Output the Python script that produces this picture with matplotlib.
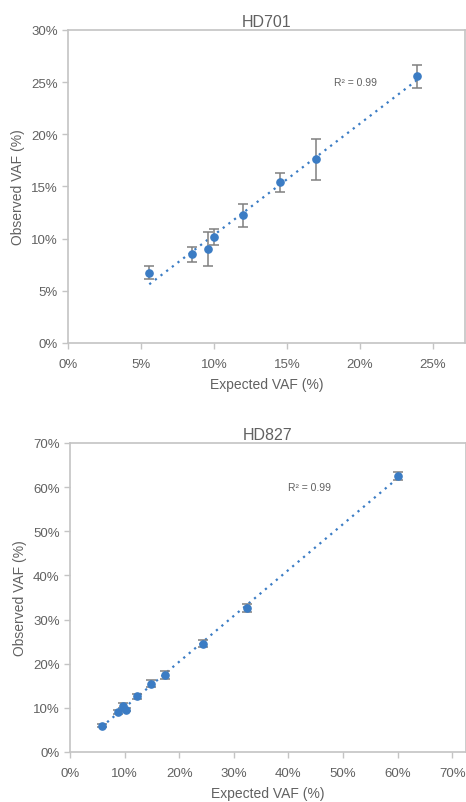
import numpy as np
import matplotlib
matplotlib.use("Agg")
import matplotlib.pyplot as plt
from matplotlib.ticker import FuncFormatter

plt.rcParams['font.family'] = ['Liberation Sans', 'DejaVu Sans']

# HD701 data (fractions)
hd701_expected = [0.0557, 0.085, 0.0956, 0.0997, 0.1197, 0.145, 0.170, 0.239]
hd701_observed = [0.0675, 0.0850, 0.0900, 0.1015, 0.1226, 0.1540, 0.1760, 0.2555]
hd701_error = [0.006, 0.007, 0.016, 0.008, 0.011, 0.009, 0.020, 0.011]
hd701_r2 = "R² = 0.99"

# HD827 data (fractions)
hd827_expected = [0.058, 0.0885, 0.0977, 0.102, 0.123, 0.148, 0.174, 0.244, 0.324, 0.601]
hd827_observed = [0.060, 0.090, 0.105, 0.096, 0.126, 0.155, 0.175, 0.245, 0.327, 0.626]
hd827_error = [0.004, 0.005, 0.005, 0.004, 0.005, 0.008, 0.009, 0.008, 0.009, 0.009]
hd827_r2 = "R² = 0.99"

top_yticks = [0, 0.05, 0.10, 0.15, 0.20, 0.25, 0.30]
top_xticks = [0, 0.05, 0.10, 0.15, 0.20, 0.25]
bot_yticks = [0, 0.1, 0.2, 0.3, 0.4, 0.5, 0.6, 0.7]
bot_xticks = [0, 0.1, 0.2, 0.3, 0.4, 0.5, 0.6, 0.7]

W, H = 466, 803
fig = plt.figure(figsize=(W / 100, H / 100), dpi=100)

TXT = '#616161'
SPINE = '#c4c4c4'
BLUE = '#3b7cc4'
ERR = '#808080'

pct = FuncFormatter(lambda v, p: f"{v*100:.0f}%")


def panel(rect, title, xs, ys, es, r2, xlim, ylim, xticks, yticks, r2pos):
    ax = fig.add_axes(rect)
    xs = np.array(xs); ys = np.array(ys)
    # trendline
    m, b = np.polyfit(xs, ys, 1)
    tx = np.array([xs.min(), xs.max()])
    ax.plot(tx, m * tx + b, linestyle=(0, (1, 2.2)), color=BLUE, lw=1.6, zorder=2)
    ax.errorbar(xs, ys, yerr=es, fmt='o', color=BLUE, ms=5.2, mec=BLUE,
                ecolor=ERR, elinewidth=1.1, capsize=3.8, capthick=1.1, zorder=3)
    ax.set_xlim(*xlim)
    ax.set_ylim(*ylim)
    ax.set_xticks(xticks)
    ax.set_yticks(yticks)
    ax.xaxis.set_major_formatter(pct)
    ax.yaxis.set_major_formatter(pct)
    for s in ax.spines.values():
        s.set_color(SPINE)
        s.set_linewidth(1.2)
    ax.tick_params(colors=SPINE, labelcolor=TXT, labelsize=9.5, length=4, width=1)
    ax.tick_params(axis='x', pad=7)
    ax.set_title(title, color=TXT, fontsize=11.5, pad=3)
    ax.set_xlabel('Expected VAF (%)', color=TXT, fontsize=10, labelpad=5)
    ax.set_ylabel('Observed VAF (%)', color=TXT, fontsize=10, labelpad=4)
    ax.text(r2pos[0], r2pos[1], r2, color=TXT, fontsize=7.5, va='center', ha='left')
    return ax


panel([68 / W, 1 - 344 / H, 397 / W, 313 / H], 'HD701',
      hd701_expected, hd701_observed, hd701_error, hd701_r2,
      (0, 0.272), (0, 0.30), top_xticks, top_yticks, (0.182, 0.250))

panel([70 / W, 1 - 753 / H, 396 / W, 309 / H], 'HD827',
      hd827_expected, hd827_observed, hd827_error, hd827_r2,
      (0, 0.725), (0, 0.70), bot_xticks, bot_yticks, (0.399, 0.60))

fig.savefig('out.png', dpi=100)
